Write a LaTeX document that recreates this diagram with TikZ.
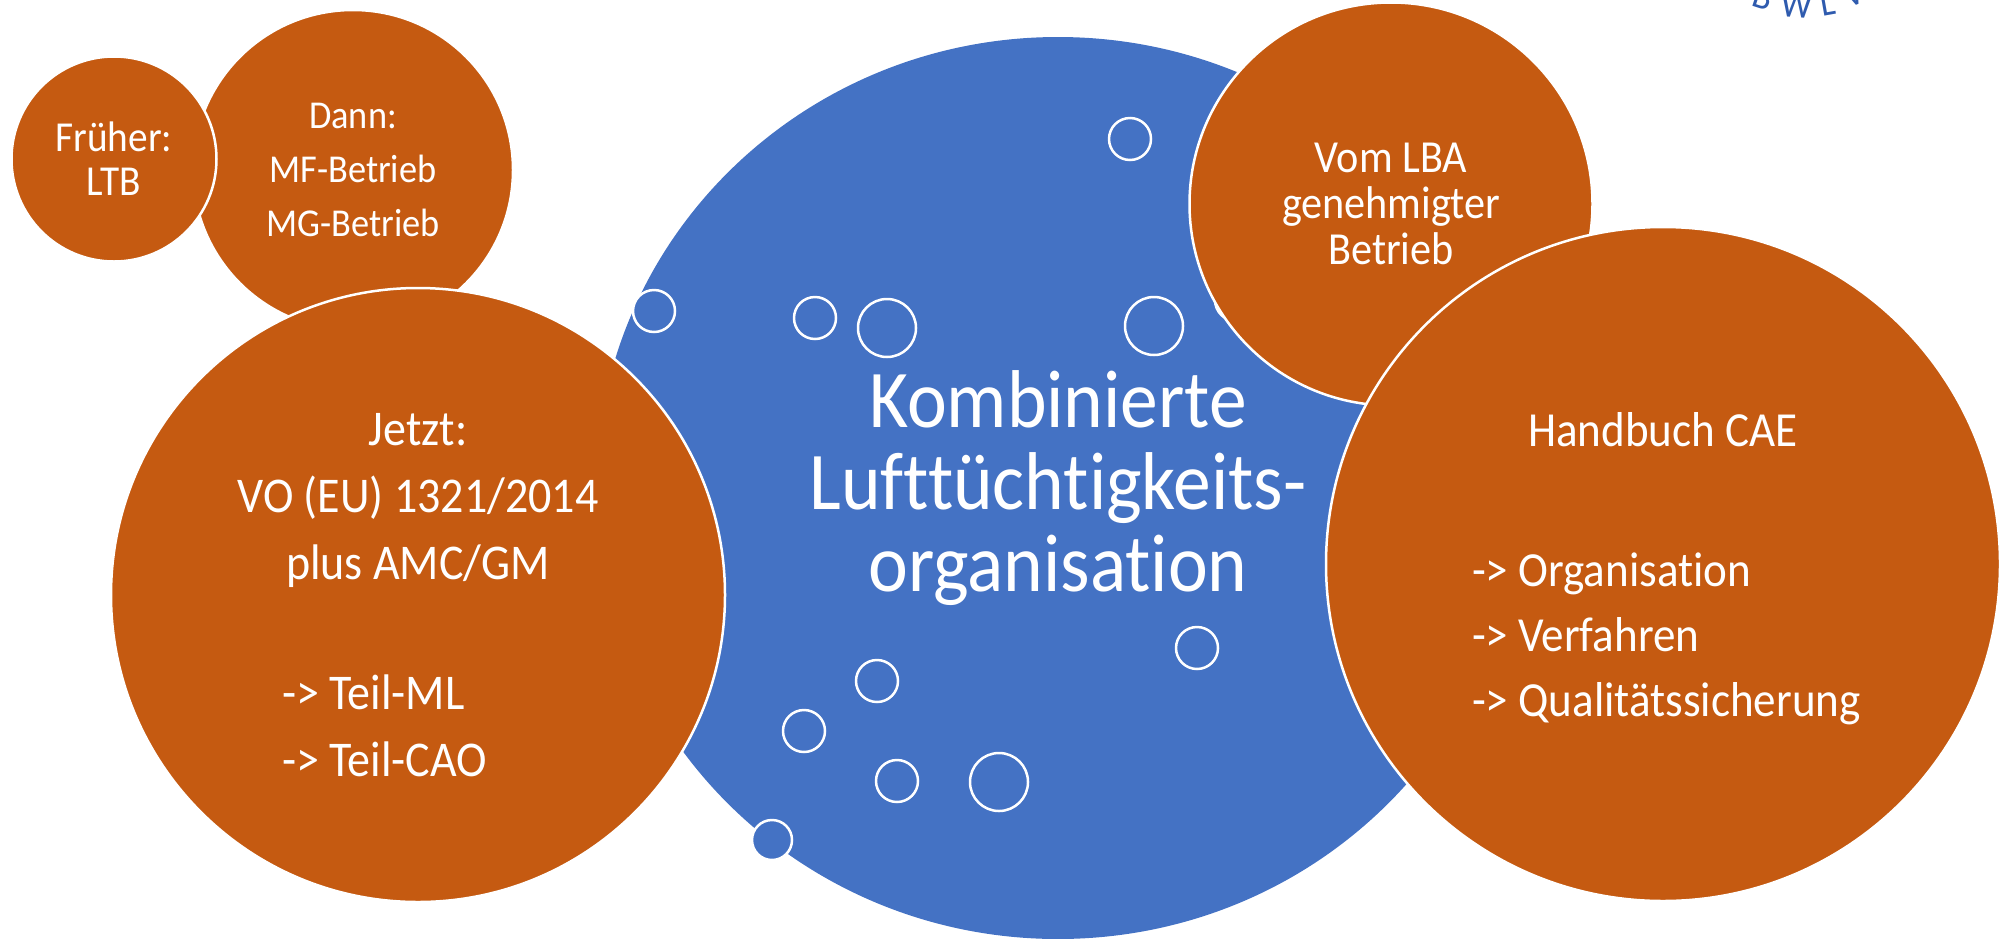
\documentclass[tikz,border=0pt]{standalone}
\usepackage{fontspec}
\setmainfont{Carlito}[FakeStretch=0.92,Ligatures=NoCommon]
\usetikzlibrary{shapes.geometric}
\definecolor{slideorange}{HTML}{C55A11}
\definecolor{slideblue}{HTML}{4472C4}
\definecolor{logoblue}{HTML}{2F5BAE}

\begin{document}
\begin{tikzpicture}[x=1pt,y=-1pt,
  orangedisc/.style={circle,fill=slideorange,draw=white,line width=2.5pt,text=white,align=center,inner sep=0pt},
  bubble/.style={circle,fill=slideblue,draw=white,line width=2.5pt,inner sep=0pt,minimum size=42pt},
  bigbubble/.style={bubble,minimum size=58pt},
  logoletter/.style={text=logoblue,font=\fontsize{38}{38}\selectfont,anchor=base,inner sep=0pt}]
\useasboundingbox (0,0) rectangle (2004,938);
\clip (0,0) rectangle (2004,938);
% central organisation
\node[ellipse,fill=slideblue,minimum width=924pt,minimum height=902pt,inner sep=0pt,
  text=white,align=center,font=\fontsize{82}{82}\selectfont] (cao) at (1058,488)
  {Kombinierte\\Lufttüchtigkeits-\\organisation};
% bubbles
\foreach \bx/\by [count=\i] in {654/311,815/318,1130/139,1197/648,877/681,804/731,897/781,1236/300}
  \node[bubble] (bub\i) at (\bx,\by) {};
\foreach \bx/\by [count=\i] in {887/328,1154/326,999/782}
  \node[bigbubble] (bigbub\i) at (\bx,\by) {};
\node[bubble,minimum size=40pt] (edgebub) at (772,840) {};
% history
\node[orangedisc,minimum size=320pt,font=\fontsize{39.5}{54}\selectfont] (dann) at (353,170)
  {Dann:\\MF-Betrieb\\MG-Betrieb};
\node[orangedisc,minimum size=205pt,font=\fontsize{42.7}{44}\selectfont] (frueher) at (114,159)
  {Früher:\\LTB};
\node[orangedisc,minimum size=614pt,font=\fontsize{50}{67}\selectfont] (jetzt) at (418,595)
  {Jetzt:\\VO (EU) 1321/2014\\plus AMC/GM\\[63pt]\makebox[272pt][l]{-> Teil-ML}\\\makebox[272pt][l]{-> Teil-CAO}};
% approval and handbook
\node[orangedisc,minimum size=403pt,font=\fontsize{45.9}{46}\selectfont] (lba) at (1391,204)
  {Vom LBA\\genehmigter\\Betrieb};
\node[orangedisc,minimum size=674pt,text depth=0pt,font=\fontsize{49}{65}\selectfont] (cae) at (1663,564)
  {Handbuch CAE\\[75pt]\makebox[382pt][l]{-> Organisation}\\\makebox[382pt][l]{-> Verfahren}\\\makebox[382pt][l]{-> Qualitätssicherung}};
% logo fragment
\node[logoletter,rotate=-18] (logob) at (1760,8) {B};
\node[logoletter,rotate=-4] (logow) at (1796,18) {W};
\node[logoletter,rotate=10] (logol) at (1830,15) {L};
\node[logoletter,rotate=22] (logov) at (1858,5) {V};
\end{tikzpicture}
\end{document}
